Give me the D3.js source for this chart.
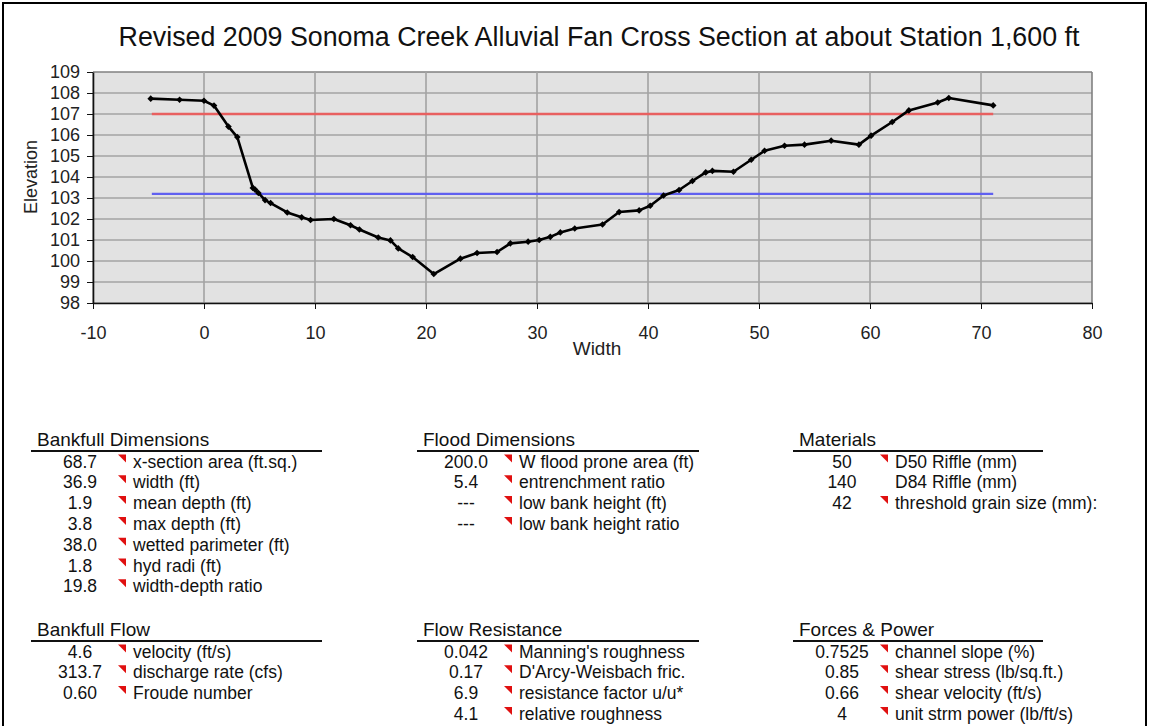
<!DOCTYPE html>
<html>
<head>
<meta charset="utf-8">
<script src="https://cdn.jsdelivr.net/npm/d3@7"></script>
<style>
  body { margin: 0; background: #fff; }
  svg { display: block; font-family: "Liberation Sans", Arial, sans-serif; }
  .axis text { font-size: 18px; fill: #222; }
  .axis path, .axis line { stroke: #111; }
</style>
</head>
<body>
<svg id="chart" width="1149" height="726"></svg>
<script>
// Cross section survey: station (ft) and elevation (ft)
var stations = [-4.8, -2.2, 0.0, 0.9, 2.2, 3.0, 4.4, 4.6, 4.9, 5.5, 6.0, 7.5, 8.8, 9.6, 11.7, 13.2, 14.0, 15.7, 16.8, 17.5,
    18.8, 20.7, 23.1, 24.6, 26.4, 27.6, 29.2, 30.2, 31.2, 32.1, 33.4, 35.9, 37.4, 39.2, 40.2, 41.4, 42.8, 44.0, 45.2, 45.8,
    47.7, 49.3, 50.5, 52.3, 54.1, 56.5, 59.0, 60.1, 62.0, 63.5, 66.1, 67.1, 71.1];
var elevations = [107.73, 107.68, 107.63, 107.4, 106.4, 105.9, 103.48, 103.4, 103.24, 102.9, 102.76, 102.31, 102.08, 101.95, 102.0, 101.7, 101.5, 101.12, 100.98, 100.6,
    100.19, 99.38, 100.11, 100.38, 100.43, 100.84, 100.92, 101.0, 101.15, 101.36, 101.55, 101.74, 102.33, 102.41, 102.63, 103.12, 103.38, 103.81, 104.22, 104.29,
    104.25, 104.82, 105.25, 105.49, 105.54, 105.73, 105.54, 105.97, 106.62, 107.17, 107.55, 107.76, 107.41];

// flood prone (red) and bankfull (blue) levels
var floodLevel = 107.0;
var bankfullLevel = 103.2;
var levelExtent = [-4.7, 71.1];

var xTicks = [-10, 0, 10, 20, 30, 40, 50, 60, 70, 80];
var yTicks = [98, 99, 100, 101, 102, 103, 104, 105, 106, 107, 108, 109];

// summary tables
var bankfullDimValues = ["68.7", "36.9", "1.9", "3.8", "38.0", "1.8", "19.8"];
var bankfullDimLabels = ["x-section area (ft.sq.)", "width (ft)", "mean depth (ft)", "max depth (ft)",
    "wetted parimeter (ft)", "hyd radi (ft)", "width-depth ratio"];
var bankfullFlowValues = ["4.6", "313.7", "0.60"];
var bankfullFlowLabels = ["velocity (ft/s)", "discharge rate (cfs)", "Froude number"];
var floodDimValues = ["200.0", "5.4", "---", "---"];
var floodDimLabels = ["W flood prone area (ft)", "entrenchment ratio", "low bank height (ft)", "low bank height ratio"];
var flowResValues = ["0.042", "0.17", "6.9", "4.1"];
var flowResLabels = ["Manning's roughness", "D'Arcy-Weisbach fric.", "resistance factor u/u*", "relative roughness"];
var materialValues = ["50", "140", "42"];
var materialLabels = ["D50 Riffle (mm)", "D84 Riffle (mm)", "threshold grain size (mm):"];
var materialFlags = [true, false, true];
var forcesValues = ["0.7525", "0.85", "0.66", "4"];
var forcesLabels = ["channel slope (%)", "shear stress (lb/sq.ft.)", "shear velocity (ft/s)", "unit strm power (lb/ft/s)"];

var svg = d3.select("#chart");

// outer frame
svg.append("rect")
    .attr("x", 3).attr("y", 3)
    .attr("width", 1143).attr("height", 760)
    .attr("fill", "none")
    .attr("stroke", "#000")
    .attr("stroke-width", 2);

var plotLeft = 93, plotRight = 1092, plotTop = 72, plotBottom = 303;

var xScale = d3.scaleLinear().domain([-10, 80]).range([plotLeft, plotRight]);
var yScale = d3.scaleLinear().domain([98, 109]).range([plotBottom, plotTop]);

/**** plot area ****/
svg.append("rect")
    .attr("x", plotLeft).attr("y", plotTop)
    .attr("width", plotRight - plotLeft).attr("height", plotBottom - plotTop)
    .attr("fill", "#e2e2e2");

svg.append("g").selectAll("line")
    .data(yTicks)
    .enter().append("line")
    .attr("x1", plotLeft).attr("x2", plotRight)
    .attr("y1", function(d) { return yScale(d); })
    .attr("y2", function(d) { return yScale(d); })
    .attr("stroke", function(d) { return d == 109 ? "#808080" : "#a3a3a3"; })
    .attr("stroke-width", 1.6);

svg.append("g").selectAll("line")
    .data(xTicks)
    .enter().append("line")
    .attr("x1", function(d) { return xScale(d); })
    .attr("x2", function(d) { return xScale(d); })
    .attr("y1", plotTop).attr("y2", plotBottom)
    .attr("stroke", function(d) { return d == 80 ? "#808080" : "#a3a3a3"; })
    .attr("stroke-width", 1.6);

/**** axes ****/
var plainFormat = function(d) { return String(d); };

svg.append("g")
    .attr("class", "axis")
    .attr("transform", "translate(" + plotLeft + ",0)")
    .call(d3.axisLeft(yScale).tickValues(yTicks).tickFormat(plainFormat).tickSize(6).tickPadding(7).tickSizeOuter(0))
    .call(function(g) { g.select(".domain").attr("stroke-width", 1.6); });

svg.append("g")
    .attr("class", "axis")
    .attr("transform", "translate(0," + plotBottom + ")")
    .call(d3.axisBottom(xScale).tickValues(xTicks).tickFormat(plainFormat).tickSize(6).tickPadding(17).tickSizeOuter(0))
    .call(function(g) { g.select(".domain").attr("stroke-width", 1.6); });

svg.append("text")
    .attr("transform", "translate(31," + 177 + ") rotate(-90)")
    .attr("text-anchor", "middle")
    .attr("dy", "0.35em")
    .style("font-size", "18px")
    .style("fill", "#222")
    .text("Elevation");

svg.append("text")
    .attr("x", 597).attr("y", 355)
    .attr("text-anchor", "middle")
    .style("font-size", "19px")
    .style("fill", "#222")
    .text("Width");

svg.append("text")
    .attr("x", 599).attr("y", 46)
    .attr("text-anchor", "middle")
    .style("font-size", "26.8px")
    .style("fill", "#111")
    .text("Revised 2009 Sonoma Creek Alluvial Fan Cross Section at about Station 1,600 ft");

/**** level lines ****/
svg.append("line")
    .attr("x1", xScale(levelExtent[0])).attr("x2", xScale(levelExtent[1]))
    .attr("y1", yScale(floodLevel)).attr("y2", yScale(floodLevel))
    .attr("stroke", "#e86060").attr("stroke-width", 2.4);

svg.append("line")
    .attr("x1", xScale(levelExtent[0])).attr("x2", xScale(levelExtent[1]))
    .attr("y1", yScale(bankfullLevel)).attr("y2", yScale(bankfullLevel))
    .attr("stroke", "#6060f0").attr("stroke-width", 2.2);

/**** cross section profile ****/
var profile = stations.map(function(s, i) { return [s, elevations[i]]; });

var line = d3.line()
    .x(function(d) { return xScale(d[0]); })
    .y(function(d) { return yScale(d[1]); });

svg.append("path")
    .datum(profile)
    .attr("d", line)
    .attr("fill", "none")
    .attr("stroke", "#000")
    .attr("stroke-width", 2.6)
    .attr("stroke-linejoin", "round");

// small square diamonds, like the spreadsheet markers
svg.append("g").selectAll("path")
    .data(profile)
    .enter().append("path")
    .attr("transform", function(d) { return "translate(" + xScale(d[0]) + "," + yScale(d[1]) + ") rotate(45)"; })
    .attr("d", d3.symbol().type(d3.symbolSquare).size(22))
    .attr("fill", "#000");

/**** tables ****/
function drawTable(x0, lineY, ruleWidth, title, values, labels, flags) {
    var g = svg.append("g");

    g.append("text")
        .attr("x", x0 + 6).attr("y", lineY - 5)
        .style("font-size", "19px")
        .style("fill", "#111")
        .text(title);

    g.append("line")
        .attr("x1", x0).attr("x2", x0 + ruleWidth)
        .attr("y1", lineY).attr("y2", lineY)
        .attr("stroke", "#111").attr("stroke-width", 2);

    values.forEach(function(v, i) {
        var y = lineY + 16.5 + i * 20.8;

        g.append("text")
            .attr("x", x0 + 49).attr("y", y)
            .attr("text-anchor", "middle")
            .style("font-size", "17.5px")
            .style("fill", "#111")
            .text(v);

        if (!flags || flags[i]) {
            var tx = x0 + 87, ty = y - 13;
            g.append("path")
                .attr("d", "M" + tx + "," + ty + "L" + (tx + 8) + "," + ty + "L" + (tx + 8) + "," + (ty + 8) + "Z")
                .attr("fill", "#e01010");
        }

        g.append("text")
            .attr("x", x0 + 102).attr("y", y)
            .style("font-size", "17.5px")
            .style("fill", "#111")
            .text(labels[i]);
    });
}

drawTable(31, 451, 291, "Bankfull Dimensions", bankfullDimValues, bankfullDimLabels);
drawTable(31, 641, 291, "Bankfull Flow", bankfullFlowValues, bankfullFlowLabels);
drawTable(417, 451, 282, "Flood Dimensions", floodDimValues, floodDimLabels);
drawTable(417, 641, 282, "Flow Resistance", flowResValues, flowResLabels);
drawTable(793, 451, 250, "Materials", materialValues, materialLabels, materialFlags);
drawTable(793, 641, 250, "Forces & Power", forcesValues, forcesLabels);
</script>
</body>
</html>
